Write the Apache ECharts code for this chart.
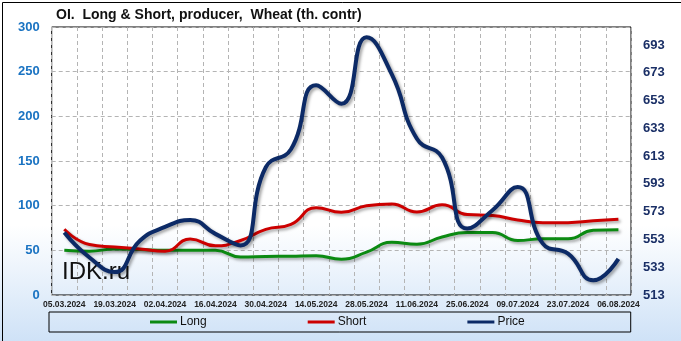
<!DOCTYPE html>
<html><head><meta charset="utf-8">
<script src="https://cdn.jsdelivr.net/npm/echarts@6/dist/echarts.min.js"></script>
<style>html,body{margin:0;padding:0;}#c{width:681px;height:341px;}</style>
</head><body><div id="c"></div>
<script>
const categories = ['05.03.2024','12.03.2024','19.03.2024','26.03.2024','02.04.2024','09.04.2024','16.04.2024','23.04.2024','30.04.2024','07.05.2024','14.05.2024','21.05.2024','28.05.2024','04.06.2024','11.06.2024','18.06.2024','25.06.2024','02.07.2024','09.07.2024','16.07.2024','23.07.2024','30.07.2024','06.08.2024'];
const longValues  = [50, 49, 51.5, 51, 50, 50, 50, 42.5, 43, 43.5, 44, 40, 48, 59, 56.7, 65, 70, 70, 61, 63, 63, 72.4, 73];
const shortValues = [73.5, 56.5, 53.7, 51.5, 49, 62.7, 55, 61, 73.5, 79, 97.8, 92.5, 100, 102, 93, 101, 90, 89, 84, 81, 81, 83, 84.7];
const priceValues = [558, 540, 529.5, 552, 562, 567, 557, 548.7, 605, 618, 664, 650.7, 698.6, 672, 625.5, 612, 560.8, 574, 590.7, 550, 542.8, 523.6, 539];
const leftTicks = [0, 300, 50];
const rightTicks = [513, 706, 20];

const chart = echarts.init(document.getElementById('c'), null, {renderer: 'canvas'});
const shadow = {shadowColor: 'rgba(0,0,0,0.35)', shadowBlur: 3, shadowOffsetX: 2, shadowOffsetY: 2};
chart.setOption({
  animation: false,
  backgroundColor: new echarts.graphic.LinearGradient(0, 0, 0, 1, [
    {offset: 0, color: '#ffffff'}, {offset: 0.66, color: '#ffffff'}, {offset: 1, color: '#cfe2f7'}
  ]),
  title: {
    text: 'OI.  Long & Short, producer,  Wheat (th. contr)',
    left: 51, top: 3,
    textStyle: {fontFamily: 'Liberation Sans', fontWeight: 'bold', fontSize: 14, color: '#111'}
  },
  grid: {left: 51.7, right: 50, top: 27, bottom: 46, show: true, borderColor: '#000', borderWidth: 1, backgroundColor: 'transparent'},
  legend: {
    data: ['Long', 'Short', 'Price'],
    left: 49, top: 312,
    padding: [4, 106, 4, 101], itemGap: 101,
    borderColor: '#000', borderWidth: 1,
    icon: 'rect', itemWidth: 27, itemHeight: 3,
    textStyle: {fontFamily: 'Liberation Sans', fontSize: 12, color: '#111', padding: [0, 0, 0, -2]}
  },
  xAxis: {
    type: 'category', data: categories, boundaryGap: true,
    axisLine: {show: false}, axisTick: {show: false},
    axisLabel: {interval: 1, margin: 5, fontFamily: 'Liberation Sans', fontWeight: 'bold', fontSize: 8.5, color: '#222'},
    splitLine: {show: true, interval: 0, lineStyle: {color: '#b4b4b4', type: [4, 3], width: 1}}
  },
  yAxis: [
    {type: 'value', min: leftTicks[0], max: leftTicks[1], interval: leftTicks[2],
     axisLine: {show: false}, axisTick: {show: false},
     axisLabel: {margin: 12, fontFamily: 'Liberation Sans', fontWeight: 'bold', fontSize: 13, color: '#1a73c2'},
     splitLine: {show: true, lineStyle: {color: '#b4b4b4', type: [4, 3], width: 1}}},
    {type: 'value', min: rightTicks[0], max: rightTicks[1], interval: rightTicks[2], position: 'right',
     axisLine: {show: false}, axisTick: {show: false},
     axisLabel: {margin: 12, showMaxLabel: false, fontFamily: 'Liberation Sans', fontWeight: 'bold', fontSize: 13, color: '#1a2f66'},
     splitLine: {show: false}}
  ],
  graphic: [
    {type: 'text', left: 62, top: 260, z: 1, style: {text: 'IDK.ru', font: '24px "Liberation Sans"', fill: '#111'}},
    {type: 'rect', left: 0, top: 0, z: 100, shape: {x: 0, y: 0, width: 680, height: 340}, style: {fill: 'none', stroke: '#000', lineWidth: 1}}
  ],
  series: [
    {name: 'Long', type: 'line', yAxisIndex: 0, data: longValues, smooth: 0.5, symbol: 'none', z: 3,
     itemStyle: {color: '#0b8a12'}, lineStyle: Object.assign({color: '#0b8a12', width: 3}, shadow)},
    {name: 'Short', type: 'line', yAxisIndex: 0, data: shortValues, smooth: 0.5, symbol: 'none', z: 4,
     itemStyle: {color: '#cc0000'}, lineStyle: Object.assign({color: '#cc0000', width: 3}, shadow)},
    {name: 'Price', type: 'line', yAxisIndex: 1, data: priceValues, smooth: 0.5, symbol: 'none', z: 5,
     itemStyle: {color: '#0c2a66'}, lineStyle: Object.assign({color: '#0c2a66', width: 4}, shadow)}
  ]
});
</script></body></html>
